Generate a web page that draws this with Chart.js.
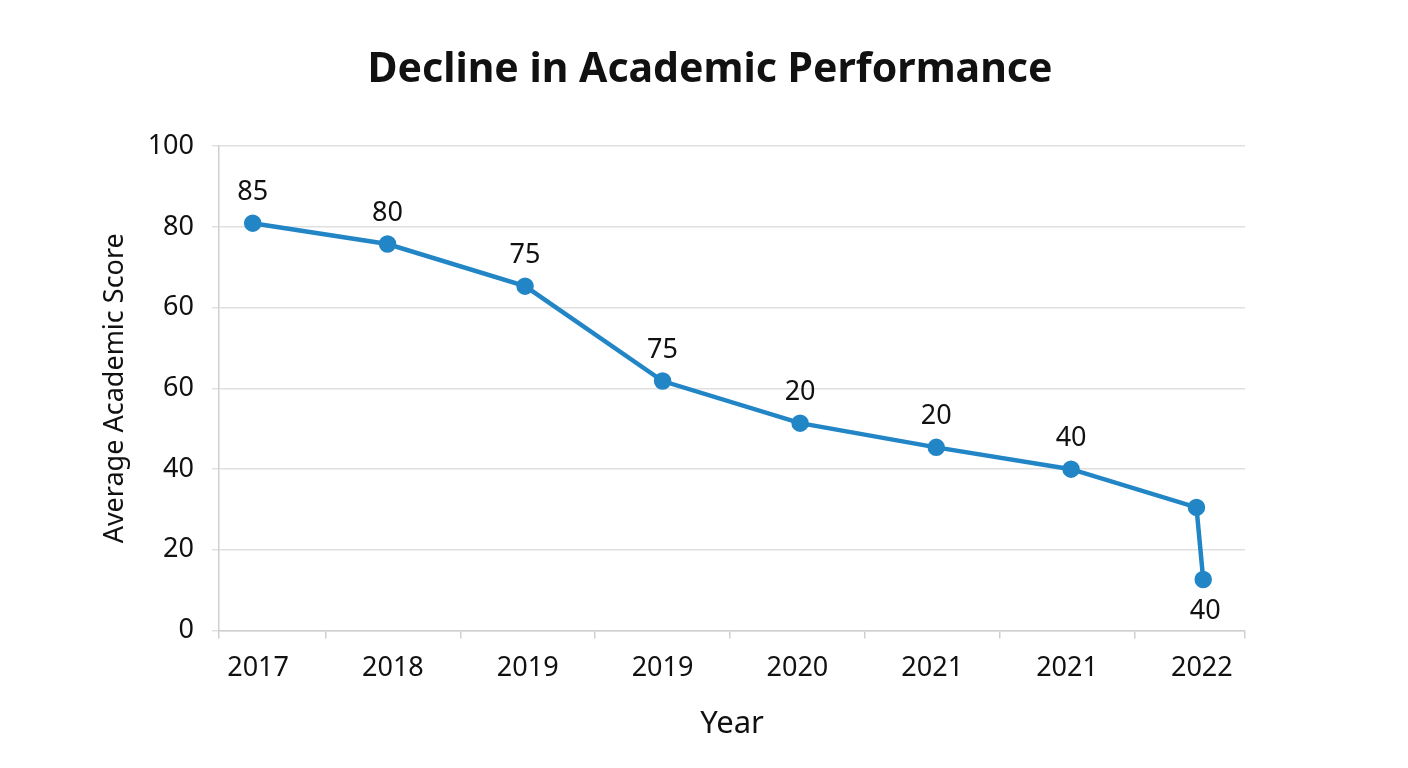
<!DOCTYPE html>
<html>
<head>
<meta charset="utf-8">
<script src="https://cdn.jsdelivr.net/npm/chart.js@4.4.1/dist/chart.umd.min.js"></script>
<style>
html,body{margin:0;padding:0;background:#fff;}
#wrap{width:1408px;height:768px;}
</style>
</head>
<body>
<div id="wrap"><canvas id="c" width="1408" height="768"></canvas></div>
<script>
const categories = ['2017','2018','2019','2019','2020','2021','2021','2022'];
const categoryPositions = [0,1,2,3,4,5,6,7];
const pointX = [-0.04, 0.96, 1.98, 3.0, 4.02, 5.03, 6.03, 6.96, 7.01];
const scoreValues = [84.1, 79.8, 71.1, 51.5, 42.8, 37.8, 33.3, 25.4, 10.5];
const pointLabels = ['85','80','75','75','20','20','40','','40'];
const yTickValues = [0, 16.667, 33.333, 50, 66.667, 83.333, 100];
const yTickLabels = ['0','20','40','60','60','80','100'];
const xTickMarks = [-0.29, 0.5, 1.5, 2.5, 3.5, 4.5, 5.5, 6.5, 7.32];

const FONT = "'Noto Sans', 'Open Sans', sans-serif";
const BLUE = '#2286c6';

const labelPlugin = {
  id: 'pointLabels',
  afterDatasetsDraw(chart) {
    const meta = chart.getDatasetMeta(0);
    const ctx = chart.ctx;
    ctx.save();
    ctx.font = "27px " + FONT;
    ctx.fillStyle = '#111';
    ctx.textAlign = 'center';
    ctx.textBaseline = 'middle';
    meta.data.forEach((pt, i) => {
      const t = pointLabels[i];
      if (!t) return;
      const below = i === meta.data.length - 1;
      ctx.fillText(t, pt.x + (below ? 2 : 0), pt.y + (below ? 32 : -31));
    });
    ctx.restore();
  }
};

new Chart(document.getElementById('c'), {
  type: 'line',
  data: {
    datasets: [{
      data: pointX.map((x, i) => ({x: x, y: scoreValues[i]})),
      borderColor: BLUE,
      backgroundColor: BLUE,
      borderWidth: 4.5,
      pointRadius: 6.5,
      pointBackgroundColor: BLUE,
      pointBorderColor: BLUE,
      tension: 0,
      xAxisID: 'x',
      yAxisID: 'y'
    }]
  },
  options: {
    responsive: false,
    animation: false,
    devicePixelRatio: 1,
    layout: {padding: {left: 12, right: 0, top: 0, bottom: 21}},
    plugins: {
      legend: {display: false},
      tooltip: {enabled: false},
      title: {
        display: true,
        text: 'Decline in Academic Performance',
        color: '#111',
        font: {family: FONT, size: 41, weight: 'bold'},
        padding: {top: 46, bottom: 51}
      }
    },
    scales: {
      x: {
        type: 'linear',
        min: -0.29, max: 7.32,
        weight: 0,
        afterBuildTicks(axis) { axis.ticks = xTickMarks.map(v => ({value: v})); },
        grid: {display: true, drawOnChartArea: false, drawTicks: true, tickLength: 8, color: '#cfcfcf', lineWidth: 1.5},
        border: {display: true, color: '#cfcfcf', width: 1.5},
        ticks: {display: false}
      },
      xLabels: {
        type: 'linear',
        position: 'bottom',
        min: -0.29, max: 7.32,
        weight: 1,
        afterBuildTicks(axis) { axis.ticks = categoryPositions.map(v => ({value: v})); },
        grid: {display: false},
        border: {display: false},
        ticks: {
          color: '#111',
          font: {family: FONT, size: 27},
          padding: 6,
          maxRotation: 0,
          autoSkip: false,
          callback: (v, i) => categories[i]
        },
        title: {display: true, text: 'Year', color: '#111', font: {family: FONT, size: 31}, padding: {top: 15}}
      },
      y: {
        min: 0, max: 100,
        afterBuildTicks(axis) { axis.ticks = yTickValues.map(v => ({value: v})); },
        afterFit(axis) { axis.width = 207; },
        grid: {color: '#e0e0e0', lineWidth: 1.5, tickLength: 7},
        border: {display: true, color: '#cfcfcf', width: 1.5},
        ticks: {
          color: '#111',
          font: {family: FONT, size: 27},
          padding: 18,
          callback: (v, i) => yTickLabels[i]
        },
        title: {display: true, text: 'Average Academic Score', color: '#111', font: {family: FONT, size: 27}, padding: {top: 87, bottom: 4}}
      },
      yRightSpace: {
        position: 'right',
        min: 0, max: 100,
        afterFit(axis) { axis.width = 163; },
        grid: {display: false},
        border: {display: false},
        ticks: {display: false}
      }
    }
  },
  plugins: [labelPlugin]
});
</script>
</body>
</html>
